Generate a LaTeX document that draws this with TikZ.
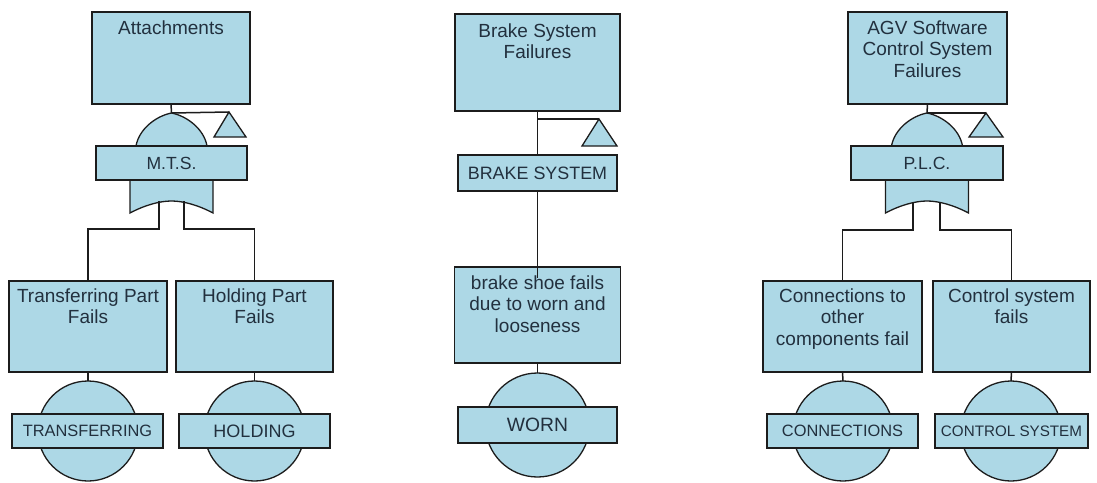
\documentclass[tikz,border=0pt]{standalone}
\usepackage{fontspec}
\setmainfont{Liberation Sans}
\usetikzlibrary{calc}
\definecolor{boxfill}{RGB}{173,216,230}
\definecolor{linec}{RGB}{28,28,28}
\definecolor{txtc}{RGB}{34,48,62}
\begin{document}
\begin{tikzpicture}[x=1pt,y=-1pt,
  bx/.style={draw=linec,fill=boxfill,line width=1.3pt,inner sep=0pt,outer sep=0pt},
  gate/.style={draw=linec,fill=boxfill,line width=1.3pt},
  wire/.style={draw=linec,line width=1.5pt},
  txt/.style={text=txtc,align=center,inner sep=0pt,anchor=north,font=\fontsize{19}{21.5}\selectfont},
  lbl/.style={text=txtc,font=\fontsize{#1}{#1}\selectfont},
]
\useasboundingbox (0,0) rectangle (1097,482);

% ================= LEFT TREE =================
\draw[gate] (136,146) .. controls (139,129) and (156,116) .. (171.5,113)
  .. controls (187,116) and (204,129) .. (207,146) -- cycle;
\draw[gate] (130,180) -- (130,213) .. controls (145,205) and (160,201) .. (171.5,201)
  .. controls (183,201) and (198,205) .. (213,213) -- (213,180) -- cycle;
\coordinate (g1top) at (171.5,113);
\coordinate (g1a) at (159,201);
\coordinate (g1b) at (184,201);
\coordinate (tri1) at (229,112);
\draw[gate] (tri1) -- (214,137) -- (246,137) -- cycle;

\node[bx,minimum width=158pt,minimum height=92pt] (att) at (171,58) {};
\node[txt] at ($(att.north)+(0,8.5)$) {Attachments};
\node[bx,minimum width=151pt,minimum height=34pt] (mts) at (171.5,163) {};
\node[lbl=17.6] at (mts.center) {M.T.S.};

\node[bx,minimum width=158pt,minimum height=91pt] (trans) at (88,326.5) {};
\node[txt] at ($(trans.north)+(0,7.5)$) {Transferring Part\\Fails};
\node[bx,minimum width=157pt,minimum height=91pt] (hold) at (254.5,326.5) {};
\node[txt] at ($(hold.north)+(0,7.5)$) {Holding Part\\Fails};

\node[bx,circle,minimum size=100pt] (c1) at (88,431) {};
\node[bx,circle,minimum size=100pt] (c2) at (254.5,431) {};
\node[bx,minimum width=151pt,minimum height=34pt] (lt) at (87.5,431) {};
\node[lbl=16.4] at (lt.center) {TRANSFERRING};
\node[bx,minimum width=151pt,minimum height=34pt] (lh) at (254.5,431) {};
\node[lbl=18] at (lh.center) {HOLDING};

\draw[wire] (att.south) -- (g1top);
\draw[wire] (g1top) -- (tri1);
\draw[wire] (g1a) -- ++(0,28) -| (trans.north);
\draw[wire] (g1b) -- ++(0,28) -| (hold.north);
\draw[wire] (trans.south) -- (c1.north);
\draw[wire] (hold.south) -- (c2.north);

% ================= MIDDLE TREE =================
\coordinate (tri2) at (599,119);
\draw[gate] (tri2) -- (582,146) -- (617,146) -- cycle;
\node[bx,minimum width=165pt,minimum height=97pt] (bsf) at (537.5,62.5) {};
\node[txt] at ($(bsf.north)+(0,9.5)$) {Brake System\\Failures};
\node[bx,minimum width=159pt,minimum height=36pt] (bsys) at (537.5,173) {};
\node[lbl=17.9] at (bsys.center) {BRAKE SYSTEM};
\node[bx,minimum width=166pt,minimum height=96pt] (shoe) at (537.5,315) {};
\node[bx,circle,minimum size=104pt] (c3) at (537.5,425) {};
\node[bx,minimum width=159pt,minimum height=36pt] (worn) at (537.5,425) {};
\node[lbl=19.3] at (worn.center) {WORN};

\coordinate (j2) at (537.5,119);
\coordinate (shoein) at (537.5,278);
\draw[wire] (bsf.south) -- (bsys.north);
\draw[wire] (j2) -- (tri2);
\draw[wire] (bsys.south) -- (shoein);
\draw[wire] (shoe.south) -- (c3.north);
\node[txt] at ($(shoe.north)+(0,8.5)$) {brake shoe fails\\due to worn and\\looseness};

% ================= RIGHT TREE =================
\begin{scope}[xshift=755.5pt]
\draw[gate] (136,146) .. controls (139,129) and (156,116) .. (171.5,113)
  .. controls (187,116) and (204,129) .. (207,146) -- cycle;
\draw[gate] (130,180) -- (130,213) .. controls (145,205) and (160,201) .. (171.5,201)
  .. controls (183,201) and (198,205) .. (213,213) -- (213,180) -- cycle;
\end{scope}
\coordinate (g3top) at (927,113);
\coordinate (g3a) at (913,202);
\coordinate (g3b) at (940,202);
\coordinate (tri3) at (986,113);
\draw[gate] (tri3) -- (969,137) -- (1003,137) -- cycle;

\node[bx,minimum width=159pt,minimum height=92pt] (agv) at (927.5,58) {};
\node[txt] at ($(agv.north)+(0,8.5)$) {AGV Software\\Control System\\Failures};
\node[bx,minimum width=152pt,minimum height=34pt] (plc) at (927,163) {};
\node[lbl=17.6] at (plc.center) {P.L.C.};

\node[bx,minimum width=159pt,minimum height=91pt] (conn) at (842.5,326.5) {};
\node[txt] at ($(conn.north)+(0,7.5)$) {Connections to\\other\\components fail};
\node[bx,minimum width=157pt,minimum height=91pt] (csf) at (1011.5,326.5) {};
\node[txt] at ($(csf.north)+(0,7.5)$) {Control system\\fails};

\node[bx,circle,minimum size=100pt] (c4) at (843,431) {};
\node[bx,circle,minimum size=100pt] (c5) at (1011,431) {};
\node[bx,minimum width=151pt,minimum height=34pt] (lc) at (842.5,431) {};
\node[lbl=16.4] at (lc.center) {CONNECTIONS};
\node[bx,minimum width=153pt,minimum height=34pt] (lcs) at (1011.5,431) {};
\node[lbl=15.2] at (lcs.center) {CONTROL SYSTEM};

\draw[wire] (agv.south) -- (g3top);
\draw[wire] (g3top) -- (tri3);
\draw[wire] (g3a) -- ++(0,28) -| (conn.north);
\draw[wire] (g3b) -- ++(0,28) -| (csf.north);
\draw[wire] (conn.south) -- (c4.north);
\draw[wire] (csf.south) -- (c5.north);
\end{tikzpicture}
\end{document}
